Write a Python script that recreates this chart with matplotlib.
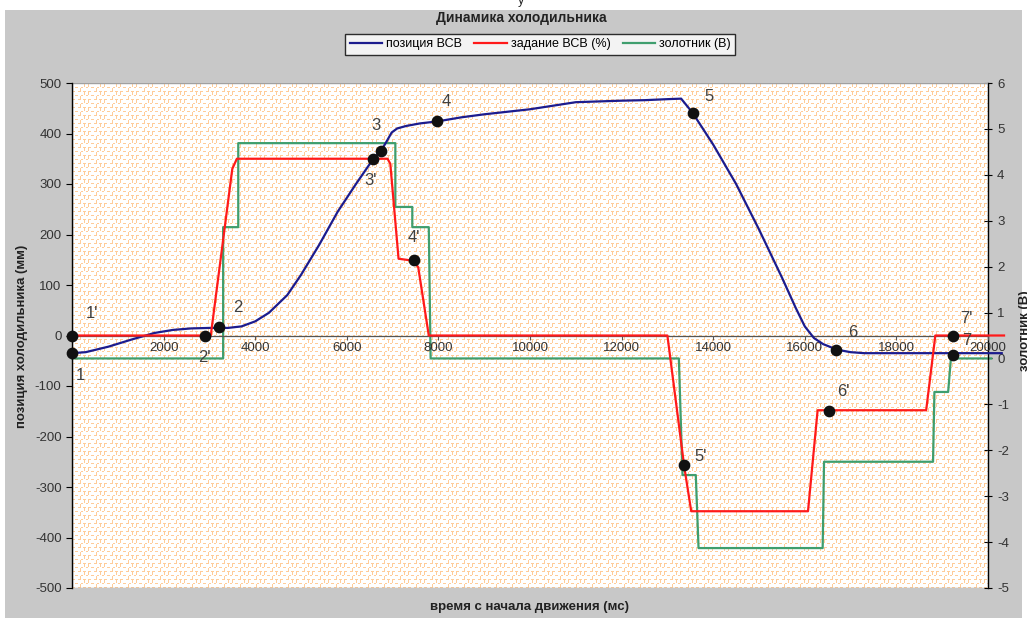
import numpy as np
import matplotlib
matplotlib.use('Agg')
import matplotlib.pyplot as plt
from matplotlib.patches import Rectangle

plt.rcParams['font.family'] = ['Liberation Sans', 'DejaVu Sans']
plt.rcParams['axes.unicode_minus'] = False

# позиция ВСВ (мм), левая ось
pos_t = [0, 300, 800, 1300, 1800, 2200, 2600, 3000, 3400, 3700, 4000, 4300, 4700,
         5000, 5400, 5800, 6200, 6580, 6750, 6880, 6980, 7100, 7300, 7600, 7980, 8500,
         9000, 10000, 10500, 11000, 12000, 12500, 13000, 13300, 13550, 14000,
         14500, 15000, 15500, 15800, 16000, 16200, 16400, 16700, 17000, 17300, 20300]
pos_v = [-35, -33, -22, -8, 5, 11, 14, 15, 15, 18, 28, 45, 80,
         120, 180, 245, 300, 350, 366, 386, 402, 410, 415, 420, 424, 432,
         438, 448, 455, 462, 465, 466, 468, 469, 441, 378,
         300, 210, 115, 55, 18, -5, -17, -28, -33, -35, -35]

# задание ВСВ (%), левая ось
set_t = [0, 3030, 3500, 3600, 6890, 6950, 7130, 7460, 7560, 7790, 13000, 13370,
         13520, 16070, 16280, 18650, 18850, 20350]
set_v = [0, 0, 330, 350, 350, 340, 152, 148, 135, 0, 0, -261,
         -348, -348, -148, -148, 0, 0]

# золотник (В), правая ось
spool_t = [0, 3300, 3300, 3630, 3630, 7060, 7060, 7430, 7430, 7790, 7830, 13250,
           13330, 13620, 13680, 16390, 16420, 18800, 18830, 19130, 19190, 20070]
spool_v = [0, 0, 2.86, 2.86, 4.69, 4.69, 3.30, 3.30, 2.86, 2.86, 0, 0,
           -2.54, -2.54, -4.13, -4.13, -2.25, -2.25, -0.73, -0.73, 0, 0]

# отмеченные точки (мс, мм)
pt_names = ["1'", "1", "2'", "2", "3'", "3", "4'", "4", "5", "5'", "6", "6'", "7'", "7"]
pt_t = [0, 0, 2900, 3200, 6580, 6750, 7460, 7980, 13550, 13360, 16680, 16530, 19230, 19230]
pt_v = [0, -35, 0, 16, 350, 366, 150, 424, 441, -257, -28, -150, 0, -38]
pt_dx = [14, 6, 0, 14, -2, -4, 0, 6, 12, 12, 12, 10, 10, 10]
pt_dy = [16, -16, -16, 14, -16, 18, 16, 14, 12, 6, 12, 14, 12, 10]

W, H = 1027, 623
fig = plt.figure(figsize=(W / 100, H / 100), dpi=100)
fig.patch.set_facecolor('white')
fig.patches.append(Rectangle((5 / W, 5 / H), 1017 / W, 608 / H, transform=fig.transFigure,
                             facecolor='#C8C8C8', edgecolor='none', zorder=0))

L, R, T, B = 72, 988, 83, 588
# узор заливки области построения
tile = np.ones((8, 16, 3))
orange = np.array([1.0, 0.80, 0.60])
for c in [0, 1, 2, 6, 7, 8, 11, 12, 13]:
    tile[0, c] = orange
for c in [3, 4, 5, 9, 10, 14, 15]:
    tile[4, c] = orange
for r in [1, 2, 3]:
    tile[r, 0] = orange
    tile[r, 12] = orange
for r in [5, 6, 7]:
    tile[r, 8] = orange
ph, pw = B - T, R - L
tex = np.tile(tile, (ph // 8 + 1, pw // 16 + 1, 1))[:ph, :pw]
fig.figimage(tex, xo=L, yo=H - B, zorder=0.5, origin='upper')

ax = fig.add_axes([L / W, (H - B) / H, (R - L) / W, (B - T) / H])
ax2 = ax.twinx()
ax.set_zorder(3)
ax2.set_zorder(2)
ax.patch.set_visible(False)
ax2.patch.set_visible(False)

ax.plot(pos_t, pos_v, color='#1C1C8E', lw=1.6, clip_on=False, zorder=3)
ax.plot(set_t, set_v, color='#FF1A1A', lw=1.6, clip_on=False, zorder=3)
ax2.plot(spool_t, spool_v, color='#3F9E6E', lw=1.6, clip_on=False)

ax.scatter(pt_t, pt_v, s=55, color='#111111', zorder=5, clip_on=False)
for n, x, y, dx, dy in zip(pt_names, pt_t, pt_v, pt_dx, pt_dy):
    ax.annotate(n, (x, y), xytext=(dx, dy), textcoords='offset points', ha='center',
                va='center', fontsize=12, color='#404040', zorder=6)

ax.set_xlim(0, 20000)
ax.set_ylim(-500, 500)
ax2.set_ylim(-5, 6)
ax.set_yticks(np.arange(-500, 501, 100))
ax2.set_yticks(np.arange(-5, 7, 1))
ax.set_xticks(np.arange(2000, 20001, 2000))

ax.spines['bottom'].set_position(('data', 0))
ax.spines['bottom'].set_color('#555555')
ax.spines['bottom'].set_linewidth(0.9)
ax.spines['top'].set_visible(False)
ax.spines['right'].set_visible(False)
ax.spines['left'].set_linewidth(1.0)
for s in ['top', 'bottom', 'left']:
    ax2.spines[s].set_visible(False)
ax2.spines['right'].set_linewidth(1.0)
ax.add_patch(Rectangle((0, 0), 1, 1, transform=ax.transAxes, fill=False,
                       edgecolor='#A0A0A0', lw=1.0, zorder=0))

ax.tick_params(axis='x', direction='out', length=3, labelsize=9.5, colors='#333333', pad=2)
ax.tick_params(axis='y', direction='out', length=4, labelsize=9.5, colors='#333333')
ax2.tick_params(axis='y', direction='inout', length=6, labelsize=9.5, colors='#333333')
ax.tick_params(axis='x', color='#555555')
ax.tick_params(axis='y', color='black')
ax2.tick_params(axis='y', color='black')

fig.text(0.508, 0.971, 'Динамика холодильника', ha='center', va='center',
         fontsize=10, fontweight='bold', color='#222222')
fig.text(0.516, 0.026, 'время с начала движения (мс)', ha='center', va='center',
         fontsize=9.5, fontweight='bold', color='#222222')
fig.text(0.021, 0.46, 'позиция холодильника (мм)', ha='center', va='center',
         rotation=90, fontsize=9.5, fontweight='bold', color='#222222')
fig.text(0.998, 0.47, 'золотник (В)', ha='center', va='center',
         rotation=90, fontsize=9.5, fontweight='bold', color='#222222')
fig.text(0.507, 0.999, 'у', ha='center', va='center', fontsize=9, color='#222222')

h1 = ax.get_lines()[0]
h2 = ax.get_lines()[1]
h3 = ax2.get_lines()[0]
leg = fig.legend([h1, h2, h3], ['позиция ВСВ', 'задание ВСВ (%)', 'золотник (В)'],
                 loc='center', bbox_to_anchor=(0.526, 0.929), ncol=3, fontsize=9,
                 frameon=True, fancybox=False, handlelength=2.6, handletextpad=0.3,
                 columnspacing=1.0, borderpad=0.35)
leg.get_frame().set_edgecolor('black')
leg.get_frame().set_linewidth(1.0)
leg.set_zorder(10)

fig.savefig('out.png', dpi=100)
